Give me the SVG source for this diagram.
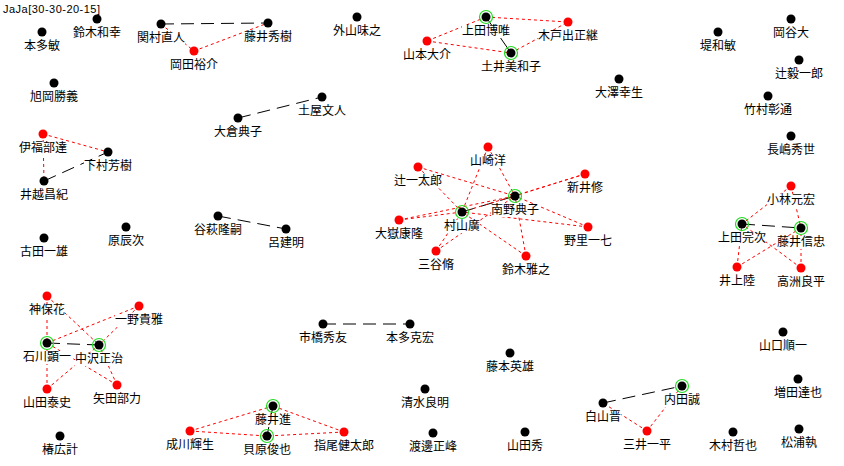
<svg xmlns="http://www.w3.org/2000/svg" width="844" height="466" viewBox="0 0 844 466">
<style>
.er{stroke:#ff0000;stroke-width:1;stroke-dasharray:3 3;fill:none}
.ek{stroke:#000;stroke-width:1;stroke-dasharray:13 7;fill:none}
.es{stroke:#000;stroke-width:1;fill:none}
.dk{fill:#000}
.dr{fill:#ff0000}
.ring{fill:none;stroke:#22dd22;stroke-width:1.2}
.bg{fill:#fff}
text{font-family:"Noto Sans CJK JP","Noto Sans CJK SC",sans-serif;font-size:12px;text-anchor:middle;fill:#000}
text.title{font-family:"Liberation Sans",Arial,sans-serif;font-size:11px;text-anchor:start}
</style>
<rect width="844" height="466" fill="#fff"/>
<text class="title" x="3" y="13" textLength="97" lengthAdjust="spacing">JaJa[30-30-20-15]</text>
<g id="connectors">
<line class="ek" x1="161" y1="24" x2="268" y2="23"/>
<line class="ek" x1="238" y1="118" x2="322" y2="97"/>
<line class="ek" x1="44" y1="181" x2="108" y2="152"/>
<line class="ek" x1="218" y1="216" x2="286" y2="229"/>
<line class="ek" x1="323" y1="324" x2="410" y2="324"/>
<line class="ek" x1="603" y1="403" x2="682" y2="386"/>
<line class="ek" x1="462" y1="212" x2="515" y2="196"/>
<line class="ek" x1="47" y1="343" x2="99" y2="345"/>
<line class="ek" x1="742" y1="224" x2="801" y2="228"/>
<line class="es" x1="486" y1="17" x2="511" y2="53"/>
<line class="es" x1="273" y1="406" x2="267" y2="436"/>
<line class="er" x1="161" y1="24" x2="194" y2="51"/>
<line class="er" x1="194" y1="51" x2="268" y2="23"/>
<line class="er" x1="43" y1="134" x2="108" y2="152"/>
<line class="er" x1="43" y1="134" x2="44" y2="181"/>
<line class="er" x1="486" y1="17" x2="568" y2="22"/>
<line class="er" x1="486" y1="17" x2="427" y2="41"/>
<line class="er" x1="427" y1="41" x2="511" y2="53"/>
<line class="er" x1="511" y1="53" x2="568" y2="22"/>
<line class="er" x1="488" y1="147" x2="462" y2="212"/>
<line class="er" x1="488" y1="147" x2="515" y2="196"/>
<line class="er" x1="418" y1="167" x2="462" y2="212"/>
<line class="er" x1="418" y1="167" x2="515" y2="196"/>
<line class="er" x1="585" y1="174" x2="462" y2="212"/>
<line class="er" x1="585" y1="174" x2="515" y2="196"/>
<line class="er" x1="399" y1="220" x2="462" y2="212"/>
<line class="er" x1="399" y1="220" x2="515" y2="196"/>
<line class="er" x1="588" y1="227" x2="462" y2="212"/>
<line class="er" x1="588" y1="227" x2="515" y2="196"/>
<line class="er" x1="436" y1="251" x2="462" y2="212"/>
<line class="er" x1="436" y1="251" x2="515" y2="196"/>
<line class="er" x1="526" y1="256" x2="462" y2="212"/>
<line class="er" x1="526" y1="256" x2="515" y2="196"/>
<line class="er" x1="791" y1="186" x2="742" y2="224"/>
<line class="er" x1="791" y1="186" x2="801" y2="228"/>
<line class="er" x1="737" y1="267" x2="742" y2="224"/>
<line class="er" x1="737" y1="267" x2="801" y2="228"/>
<line class="er" x1="801" y1="268" x2="742" y2="224"/>
<line class="er" x1="801" y1="268" x2="801" y2="228"/>
<line class="er" x1="47" y1="296" x2="47" y2="343"/>
<line class="er" x1="47" y1="296" x2="99" y2="345"/>
<line class="er" x1="139" y1="306" x2="47" y2="343"/>
<line class="er" x1="139" y1="306" x2="99" y2="345"/>
<line class="er" x1="47" y1="389" x2="47" y2="343"/>
<line class="er" x1="47" y1="389" x2="99" y2="345"/>
<line class="er" x1="117" y1="385" x2="47" y2="343"/>
<line class="er" x1="117" y1="385" x2="99" y2="345"/>
<line class="er" x1="190" y1="431" x2="273" y2="406"/>
<line class="er" x1="190" y1="431" x2="267" y2="436"/>
<line class="er" x1="344" y1="432" x2="273" y2="406"/>
<line class="er" x1="344" y1="432" x2="267" y2="436"/>
<line class="er" x1="647" y1="431" x2="603" y2="403"/>
<line class="er" x1="647" y1="431" x2="682" y2="386"/>
</g>
<g id="n1"><circle class="dk" cx="42" cy="32" r="4.5"/><rect class="bg" x="24" y="40" width="36" height="13"/><text x="42" y="50">本多敏</text></g>
<g id="n2"><circle class="dk" cx="97" cy="19" r="4.5"/><rect class="bg" x="73" y="27" width="48" height="13"/><text x="97" y="37">鈴木和幸</text></g>
<g id="n3"><circle class="dk" cx="161" cy="24" r="4.5"/><rect class="bg" x="137" y="32" width="48" height="13"/><text x="161" y="42">関村直人</text></g>
<g id="n4"><circle class="dk" cx="268" cy="23" r="4.5"/><rect class="bg" x="244" y="31" width="48" height="13"/><text x="268" y="41">藤井秀樹</text></g>
<g id="n5"><circle class="dr" cx="194" cy="51" r="4.5"/><rect class="bg" x="170" y="59" width="48" height="13"/><text x="194" y="69">岡田裕介</text></g>
<g id="n6"><circle class="dk" cx="54" cy="83" r="4.5"/><rect class="bg" x="30" y="91" width="48" height="13"/><text x="54" y="101">旭岡勝義</text></g>
<g id="n7"><circle class="dk" cx="357" cy="17" r="4.5"/><rect class="bg" x="333" y="25" width="48" height="13"/><text x="357" y="35">外山味之</text></g>
<g id="n8"><circle class="ring" cx="486" cy="17" r="6.5"/><circle class="dk" cx="486" cy="17" r="4.5"/><rect class="bg" x="462" y="25" width="48" height="13"/><text x="486" y="35">上田博唯</text></g>
<g id="n9"><circle class="dr" cx="568" cy="22" r="4.5"/><rect class="bg" x="538" y="30" width="60" height="13"/><text x="568" y="40">木戸出正継</text></g>
<g id="n10"><circle class="dr" cx="427" cy="41" r="4.5"/><rect class="bg" x="403" y="49" width="48" height="13"/><text x="427" y="59">山本大介</text></g>
<g id="n11"><circle class="ring" cx="511" cy="53" r="6.5"/><circle class="dk" cx="511" cy="53" r="4.5"/><rect class="bg" x="481" y="61" width="60" height="13"/><text x="511" y="71">土井美和子</text></g>
<g id="n12"><circle class="dk" cx="238" cy="118" r="4.5"/><rect class="bg" x="214" y="126" width="48" height="13"/><text x="238" y="136">大倉典子</text></g>
<g id="n13"><circle class="dk" cx="322" cy="97" r="4.5"/><rect class="bg" x="298" y="105" width="48" height="13"/><text x="322" y="115">土屋文人</text></g>
<g id="n14"><circle class="dk" cx="619" cy="79" r="4.5"/><rect class="bg" x="595" y="87" width="48" height="13"/><text x="619" y="97">大澤幸生</text></g>
<g id="n15"><circle class="dk" cx="718" cy="32" r="4.5"/><rect class="bg" x="700" y="40" width="36" height="13"/><text x="718" y="50">堤和敏</text></g>
<g id="n16"><circle class="dk" cx="791" cy="19" r="4.5"/><rect class="bg" x="773" y="27" width="36" height="13"/><text x="791" y="37">岡谷大</text></g>
<g id="n17"><circle class="dk" cx="799" cy="60" r="4.5"/><rect class="bg" x="775" y="68" width="48" height="13"/><text x="799" y="78">辻毅一郎</text></g>
<g id="n18"><circle class="dk" cx="768" cy="96" r="4.5"/><rect class="bg" x="744" y="104" width="48" height="13"/><text x="768" y="114">竹村彰通</text></g>
<g id="n19"><circle class="dk" cx="791" cy="136" r="4.5"/><rect class="bg" x="767" y="144" width="48" height="13"/><text x="791" y="154">長嶋秀世</text></g>
<g id="n20"><circle class="dr" cx="43" cy="134" r="4.5"/><rect class="bg" x="19" y="142" width="48" height="13"/><text x="43" y="152">伊福部達</text></g>
<g id="n21"><circle class="dk" cx="108" cy="152" r="4.5"/><rect class="bg" x="84" y="160" width="48" height="13"/><text x="108" y="170">下村芳樹</text></g>
<g id="n22"><circle class="dk" cx="44" cy="181" r="4.5"/><rect class="bg" x="20" y="189" width="48" height="13"/><text x="44" y="199">井越昌紀</text></g>
<g id="n23"><circle class="dk" cx="218" cy="216" r="4.5"/><rect class="bg" x="194" y="224" width="48" height="13"/><text x="218" y="234">谷萩隆嗣</text></g>
<g id="n24"><circle class="dk" cx="286" cy="229" r="4.5"/><rect class="bg" x="268" y="237" width="36" height="13"/><text x="286" y="247">呂建明</text></g>
<g id="n25"><circle class="dk" cx="126" cy="227" r="4.5"/><rect class="bg" x="108" y="235" width="36" height="13"/><text x="126" y="245">原辰次</text></g>
<g id="n26"><circle class="dk" cx="44" cy="238" r="4.5"/><rect class="bg" x="20" y="246" width="48" height="13"/><text x="44" y="256">古田一雄</text></g>
<g id="n27"><circle class="dr" cx="488" cy="147" r="4.5"/><rect class="bg" x="470" y="155" width="36" height="13"/><text x="488" y="165">山崎洋</text></g>
<g id="n28"><circle class="dr" cx="418" cy="167" r="4.5"/><rect class="bg" x="394" y="175" width="48" height="13"/><text x="418" y="185">辻一太郎</text></g>
<g id="n29"><circle class="dr" cx="585" cy="174" r="4.5"/><rect class="bg" x="567" y="182" width="36" height="13"/><text x="585" y="192">新井修</text></g>
<g id="n30"><circle class="ring" cx="515" cy="196" r="6.5"/><circle class="dk" cx="515" cy="196" r="4.5"/><rect class="bg" x="491" y="204" width="48" height="13"/><text x="515" y="214">南野典子</text></g>
<g id="n31"><circle class="ring" cx="462" cy="212" r="6.5"/><circle class="dk" cx="462" cy="212" r="4.5"/><rect class="bg" x="444" y="220" width="36" height="13"/><text x="462" y="230">村山廣</text></g>
<g id="n32"><circle class="dr" cx="399" cy="220" r="4.5"/><rect class="bg" x="375" y="228" width="48" height="13"/><text x="399" y="238">大嶽康隆</text></g>
<g id="n33"><circle class="dr" cx="588" cy="227" r="4.5"/><rect class="bg" x="564" y="235" width="48" height="13"/><text x="588" y="245">野里一七</text></g>
<g id="n34"><circle class="dr" cx="436" cy="251" r="4.5"/><rect class="bg" x="418" y="259" width="36" height="13"/><text x="436" y="269">三谷脩</text></g>
<g id="n35"><circle class="dr" cx="526" cy="256" r="4.5"/><rect class="bg" x="502" y="264" width="48" height="13"/><text x="526" y="274">鈴木雅之</text></g>
<g id="n36"><circle class="dr" cx="791" cy="186" r="4.5"/><rect class="bg" x="767" y="194" width="48" height="13"/><text x="791" y="204">小林元宏</text></g>
<g id="n37"><circle class="ring" cx="742" cy="224" r="6.5"/><circle class="dk" cx="742" cy="224" r="4.5"/><rect class="bg" x="718" y="232" width="48" height="13"/><text x="742" y="242">上田完次</text></g>
<g id="n38"><circle class="ring" cx="801" cy="228" r="6.5"/><circle class="dk" cx="801" cy="228" r="4.5"/><rect class="bg" x="777" y="236" width="48" height="13"/><text x="801" y="246">藤井信忠</text></g>
<g id="n39"><circle class="dr" cx="737" cy="267" r="4.5"/><rect class="bg" x="719" y="275" width="36" height="13"/><text x="737" y="285">井上陸</text></g>
<g id="n40"><circle class="dr" cx="801" cy="268" r="4.5"/><rect class="bg" x="777" y="276" width="48" height="13"/><text x="801" y="286">高洲良平</text></g>
<g id="n41"><circle class="dr" cx="47" cy="296" r="4.5"/><rect class="bg" x="29" y="304" width="36" height="13"/><text x="47" y="314">神保花</text></g>
<g id="n42"><circle class="dr" cx="139" cy="306" r="4.5"/><rect class="bg" x="115" y="314" width="48" height="13"/><text x="139" y="324">一野貴雅</text></g>
<g id="n43"><circle class="ring" cx="47" cy="343" r="6.5"/><circle class="dk" cx="47" cy="343" r="4.5"/><rect class="bg" x="23" y="351" width="48" height="13"/><text x="47" y="361">石川顕一</text></g>
<g id="n44"><circle class="ring" cx="99" cy="345" r="6.5"/><circle class="dk" cx="99" cy="345" r="4.5"/><rect class="bg" x="75" y="353" width="48" height="13"/><text x="99" y="363">中沢正治</text></g>
<g id="n45"><circle class="dr" cx="47" cy="389" r="4.5"/><rect class="bg" x="23" y="397" width="48" height="13"/><text x="47" y="407">山田泰史</text></g>
<g id="n46"><circle class="dr" cx="117" cy="385" r="4.5"/><rect class="bg" x="93" y="393" width="48" height="13"/><text x="117" y="403">矢田部力</text></g>
<g id="n47"><circle class="dk" cx="60" cy="436" r="4.5"/><rect class="bg" x="42" y="444" width="36" height="13"/><text x="60" y="454">椿広計</text></g>
<g id="n48"><circle class="dr" cx="190" cy="431" r="4.5"/><rect class="bg" x="166" y="439" width="48" height="13"/><text x="190" y="449">成川輝生</text></g>
<g id="n49"><circle class="ring" cx="273" cy="406" r="6.5"/><circle class="dk" cx="273" cy="406" r="4.5"/><rect class="bg" x="255" y="414" width="36" height="13"/><text x="273" y="424">藤井進</text></g>
<g id="n50"><circle class="ring" cx="267" cy="436" r="6.5"/><circle class="dk" cx="267" cy="436" r="4.5"/><rect class="bg" x="243" y="444" width="48" height="13"/><text x="267" y="454">貝原俊也</text></g>
<g id="n51"><circle class="dr" cx="344" cy="432" r="4.5"/><rect class="bg" x="314" y="440" width="60" height="13"/><text x="344" y="450">指尾健太郎</text></g>
<g id="n52"><circle class="dk" cx="323" cy="324" r="4.5"/><rect class="bg" x="299" y="332" width="48" height="13"/><text x="323" y="342">市橋秀友</text></g>
<g id="n53"><circle class="dk" cx="410" cy="324" r="4.5"/><rect class="bg" x="386" y="332" width="48" height="13"/><text x="410" y="342">本多克宏</text></g>
<g id="n54"><circle class="dk" cx="425" cy="389" r="4.5"/><rect class="bg" x="401" y="397" width="48" height="13"/><text x="425" y="407">清水良明</text></g>
<g id="n55"><circle class="dk" cx="433" cy="433" r="4.5"/><rect class="bg" x="409" y="441" width="48" height="13"/><text x="433" y="451">渡邊正峰</text></g>
<g id="n56"><circle class="dk" cx="510" cy="353" r="4.5"/><rect class="bg" x="486" y="361" width="48" height="13"/><text x="510" y="371">藤本英雄</text></g>
<g id="n57"><circle class="dk" cx="525" cy="432" r="4.5"/><rect class="bg" x="507" y="440" width="36" height="13"/><text x="525" y="450">山田秀</text></g>
<g id="n58"><circle class="dk" cx="603" cy="403" r="4.5"/><rect class="bg" x="585" y="411" width="36" height="13"/><text x="603" y="421">白山晋</text></g>
<g id="n59"><circle class="ring" cx="682" cy="386" r="6.5"/><circle class="dk" cx="682" cy="386" r="4.5"/><rect class="bg" x="664" y="394" width="36" height="13"/><text x="682" y="404">内田誠</text></g>
<g id="n60"><circle class="dr" cx="647" cy="431" r="4.5"/><rect class="bg" x="623" y="439" width="48" height="13"/><text x="647" y="449">三井一平</text></g>
<g id="n61"><circle class="dk" cx="733" cy="432" r="4.5"/><rect class="bg" x="709" y="440" width="48" height="13"/><text x="733" y="450">木村哲也</text></g>
<g id="n62"><circle class="dk" cx="799" cy="429" r="4.5"/><rect class="bg" x="781" y="437" width="36" height="13"/><text x="799" y="447">松浦執</text></g>
<g id="n63"><circle class="dk" cx="783" cy="332" r="4.5"/><rect class="bg" x="759" y="340" width="48" height="13"/><text x="783" y="350">山口順一</text></g>
<g id="n64"><circle class="dk" cx="798" cy="379" r="4.5"/><rect class="bg" x="774" y="387" width="48" height="13"/><text x="798" y="397">増田達也</text></g>
</svg>
